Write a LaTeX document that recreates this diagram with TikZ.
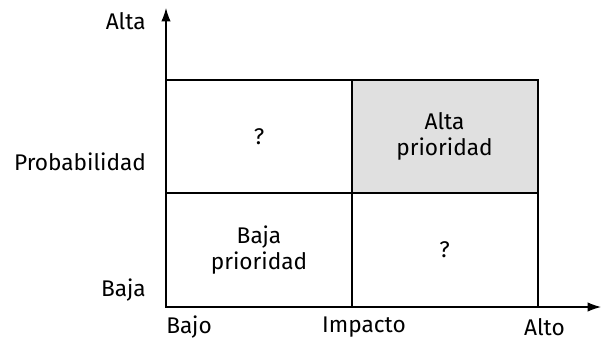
\documentclass[tikz,border=0pt]{standalone}
\usepackage{fontspec}
\setmainfont{Fira Sans}
\usetikzlibrary{arrows.meta,positioning}

\begin{document}
\begin{tikzpicture}[
    x=0.75pt, y=-0.75pt,
    cell/.style={draw, line width=1.5pt, minimum width=139.5pt, minimum height=85pt, align=center, font=\fontsize{17}{20}\selectfont, inner sep=0pt},
    lbl/.style={font=\fontsize{17}{20}\selectfont, inner sep=0pt},
    axis/.style={-{Latex[length=10pt,width=7pt]}, line width=0.8pt}
]
\useasboundingbox (0,0) rectangle (606,343);
% quadrants
\node[cell] (lt) at (259,136.5) {?};
\node[cell, fill=black!12] (rt) at (444.5,136.5) {Alta\\prioridad};
\node[cell] (lb) at (259,250) {Baja\\prioridad};
\node[cell] (rb) at (444.5,250) {?};

% axes
\coordinate (org) at (166,307);
\coordinate (ytip) at (166,8);
\coordinate (xtip) at (601,307);
\draw[axis] (org) -- (ytip);
\draw[axis] (org) -- (xtip);

% axis labels
\node[lbl, anchor=east] (yhi) at (146,21) {Alta};
\node[lbl] (ylab) at (80,162) {Probabilidad};
\node[lbl, anchor=east] (ylo) at (146,290) {Baja};
\node[lbl, anchor=west] (xlo) at (166,327) {Bajo};
\node[lbl] (xlab) at (364,327) {Impacto};
\node[lbl, anchor=east] (xhi) at (565,327) {Alto};
\end{tikzpicture}
\end{document}
